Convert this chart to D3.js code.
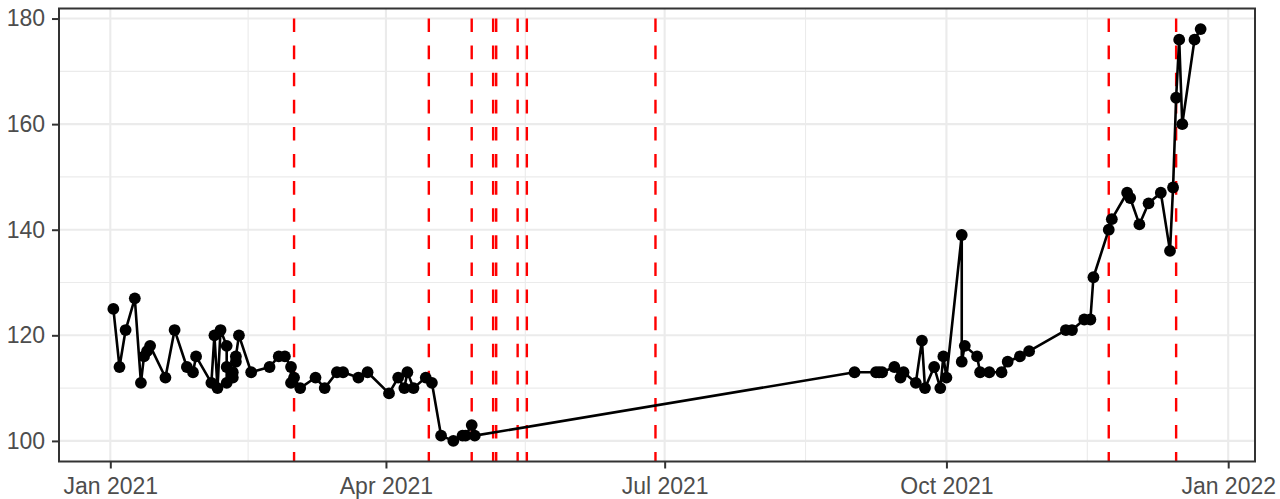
<!DOCTYPE html>
<html><head><meta charset="utf-8">
<script src="https://cdn.jsdelivr.net/npm/d3@7"></script>
<style>body{margin:0;background:#fff}svg{display:block}</style>
</head><body>
<svg id="chart" width="1280" height="499"></svg>
<script>
const dates = [
 "2021-01-02","2021-01-04","2021-01-06","2021-01-09","2021-01-11","2021-01-12","2021-01-13","2021-01-14",
 "2021-01-19","2021-01-22","2021-01-26","2021-01-28","2021-01-29","2021-02-03","2021-02-04","2021-02-05",
 "2021-02-06","2021-02-08","2021-02-08","2021-02-08","2021-02-10","2021-02-10","2021-02-11","2021-02-11",
 "2021-02-12","2021-02-16","2021-02-22","2021-02-25","2021-02-27","2021-03-01","2021-03-01","2021-03-02",
 "2021-03-04","2021-03-09","2021-03-12","2021-03-16","2021-03-18","2021-03-23","2021-03-26","2021-04-02",
 "2021-04-05","2021-04-07","2021-04-08","2021-04-10","2021-04-14","2021-04-16","2021-04-19","2021-04-23",
 "2021-04-26","2021-04-27","2021-04-29","2021-04-30",
 "2021-09-01","2021-09-08","2021-09-09","2021-09-10","2021-09-14","2021-09-16","2021-09-17","2021-09-21",
 "2021-09-23","2021-09-24","2021-09-27","2021-09-29","2021-09-30","2021-10-01","2021-10-06","2021-10-06",
 "2021-10-07","2021-10-11","2021-10-12","2021-10-15","2021-10-19","2021-10-21","2021-10-25","2021-10-28",
 "2021-11-09","2021-11-11","2021-11-15","2021-11-17","2021-11-18","2021-11-23","2021-11-24","2021-11-29",
 "2021-11-30","2021-12-03","2021-12-06","2021-12-10","2021-12-13","2021-12-14","2021-12-15","2021-12-16",
 "2021-12-17","2021-12-21","2021-12-23"
];
const values = [
 125,114,121,127,111,116,117,118,
 112,121,114,113,116,111,120,110,
 121,118,111,114,112,113,115,116,
 120,113,114,116,116,114,111,112,
 110,112,110,113,113,112,113,109,
 112,110,113,110,112,111,101,100,
 101,101,103,101,
 113,113,113,113,114,112,113,111,
 119,110,114,110,116,112,139,115,
 118,116,113,113,113,115,116,117,
 121,121,123,123,131,140,142,147,
 146,141,145,147,136,148,165,176,
 160,176,178
];
const eventDates = ["2021-03-02","2021-04-15","2021-04-29","2021-05-06","2021-05-07","2021-05-14","2021-05-17","2021-06-28","2021-11-23","2021-12-15"];
const yTickValues = [100,120,140,160,180];
const xTickDates = ["2021-01-01","2021-04-01","2021-07-01","2021-10-01","2022-01-01"];
const xTickLabels = ["Jan 2021","Apr 2021","Jul 2021","Oct 2021","Jan 2022"];

const W = 1280, H = 499;
const m = {l: 59, r: 25, t: 8.5, b: 37.5};
const parse = d3.utcParse("%Y-%m-%d");
const data = dates.map((d, i) => ({date: parse(d), value: values[i]}));
const allDates = data.map(d => d.date).concat(eventDates.map(parse));
const xe = d3.extent(allDates), xs = xe[1] - xe[0];
const x = d3.scaleUtc().domain([new Date(+xe[0] - xs * 0.05), new Date(+xe[1] + xs * 0.05)]).range([m.l, W - m.r]);
const ye = d3.extent(values), ysp = ye[1] - ye[0];
const y = d3.scaleLinear().domain([ye[0] - ysp * 0.05, ye[1] + ysp * 0.05]).range([H - m.b, m.t]);

const svg = d3.select("#chart");
const grid = "#EBEBEB";

// minor gridlines
const xMaj = xTickDates.map(parse);
const xMin = [];
for (let i = 0; i < xMaj.length - 1; i++) xMin.push(new Date((+xMaj[i] + +xMaj[i + 1]) / 2));
const yMin = [];
for (let i = 0; i < yTickValues.length - 1; i++) yMin.push((yTickValues[i] + yTickValues[i + 1]) / 2);
const [dx0, dx1] = x.domain();
const gGrid = svg.append("g");
gGrid.selectAll(".xmin").data(xMin.filter(d => d >= dx0 && d <= dx1)).join("line")
  .attr("x1", d => x(d)).attr("x2", d => x(d)).attr("y1", m.t).attr("y2", H - m.b)
  .attr("stroke", grid).attr("stroke-width", 1.1);
gGrid.selectAll(".ymin").data(yMin).join("line")
  .attr("x1", m.l).attr("x2", W - m.r).attr("y1", d => y(d)).attr("y2", d => y(d))
  .attr("stroke", grid).attr("stroke-width", 1.1);
gGrid.selectAll(".xmaj").data(xMaj.filter(d => d >= dx0 && d <= dx1)).join("line")
  .attr("x1", d => x(d)).attr("x2", d => x(d)).attr("y1", m.t).attr("y2", H - m.b)
  .attr("stroke", grid).attr("stroke-width", 2.1);
gGrid.selectAll(".ymaj").data(yTickValues).join("line")
  .attr("x1", m.l).attr("x2", W - m.r).attr("y1", d => y(d)).attr("y2", d => y(d))
  .attr("stroke", grid).attr("stroke-width", 2.1);

// event lines
svg.append("g").selectAll("line").data(eventDates.map(parse)).join("line")
  .attr("x1", d => x(d)).attr("x2", d => x(d)).attr("y1", m.t).attr("y2", H - m.b)
  .attr("stroke", "#FF0000").attr("stroke-width", 2.4)
  .attr("stroke-dasharray", "13.6,13.5").attr("stroke-dashoffset", 17.1);

// series line and points
const line = d3.line().x(d => x(d.date)).y(d => y(d.value));
svg.append("path").datum(data).attr("d", line)
  .attr("fill", "none").attr("stroke", "#000").attr("stroke-width", 2.6).attr("stroke-linejoin", "round");
svg.append("g").selectAll("circle").data(data).join("circle")
  .attr("cx", d => x(d.date)).attr("cy", d => y(d.value)).attr("r", 5.9).attr("fill", "#000");

// panel border
svg.append("rect").attr("x", m.l).attr("y", m.t).attr("width", W - m.l - m.r).attr("height", H - m.t - m.b)
  .attr("fill", "none").attr("stroke", "#333333").attr("stroke-width", 2);

// axes
const font = "'Liberation Sans', Arial, Helvetica, sans-serif";
const xAxis = d3.axisBottom(x).tickValues(xMaj).tickFormat((d, i) => xTickLabels[i]).tickSize(7).tickSizeOuter(0).tickPadding(9);
const gx = svg.append("g").attr("transform", `translate(0,${H - m.b})`).call(xAxis);
const yAxis = d3.axisLeft(y).tickValues(yTickValues).tickFormat(d3.format("d")).tickSize(7).tickSizeOuter(0).tickPadding(7);
const gy = svg.append("g").attr("transform", `translate(${m.l},0)`).call(yAxis);
[gx, gy].forEach(g => {
  g.select(".domain").remove();
  g.selectAll(".tick line").attr("stroke", "#333333").attr("stroke-width", 2);
  g.selectAll(".tick text").attr("fill", "#4D4D4D").style("font-family", font).style("font-size", "23px");
});
</script>
</body></html>
